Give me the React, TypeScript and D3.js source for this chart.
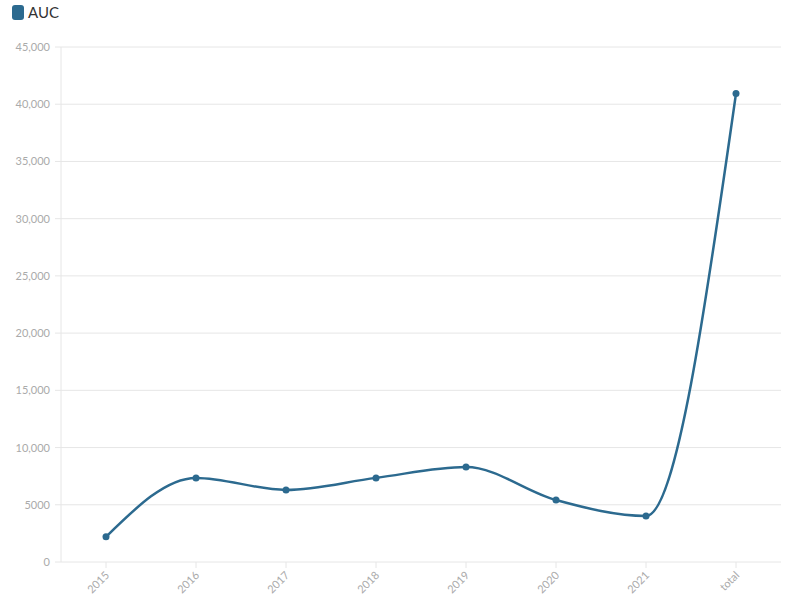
import React from "react";
import * as d3 from "d3";

const categories: string[] = ["2015", "2016", "2017", "2018", "2019", "2020", "2021", "total"];
const aucValues: number[] = [2200, 7350, 6300, 7350, 8300, 5420, 4020, 40940];
const yTicks: number[] = [0, 5000, 10000, 15000, 20000, 25000, 30000, 35000, 40000, 45000];
const seriesName = "AUC";

const W = 800;
const H = 603;
const margin = { left: 61, right: 19, top: 47, bottom: 41 };
const color = "#2c6a8f";
const font = "Lato, 'Open Sans', sans-serif";

export default function App() {
  const x = d3
    .scalePoint<string>()
    .domain(categories)
    .range([margin.left, W - margin.right])
    .padding(0.5);
  const y = d3
    .scaleLinear()
    .domain([0, 45000])
    .range([H - margin.bottom, margin.top]);
  const fmt = (d: number) => (d >= 10000 ? d3.format(",")(d) : String(d));
  const line = d3
    .line<number>()
    .x((_, i) => x(categories[i]) as number)
    .y((d) => y(d))
    .curve(d3.curveMonotoneX);
  const x0 = margin.left;
  const x1 = W - margin.right;
  const yb = y(0);
  return (
    <svg
      width={W}
      height={H}
      style={{ position: "absolute", left: 0, top: 0, background: "#fff" }}
      fontFamily={font}
    >
      {/* legend */}
      <rect x={12} y={5} width={12} height={15} rx={3} fill={color} />
      <text x={28} y={18} fontSize={15} fill="#333">
        {seriesName}
      </text>
      {/* grid */}
      {yTicks.map((t) => (
        <g key={t}>
          <line x1={x0 - 6} x2={x1} y1={y(t)} y2={y(t)} stroke="#e6e6e6" strokeWidth={1} />
          <text x={x0 - 11} y={y(t) + 4} textAnchor="end" fontSize={11} fill="#aaa">
            {fmt(t)}
          </text>
        </g>
      ))}
      <line x1={x0} x2={x0} y1={margin.top} y2={yb} stroke="#e6e6e6" strokeWidth={1} />
      {categories.map((c) => {
        const cx = x(c) as number;
        return (
          <g key={c}>
            <line x1={cx} x2={cx} y1={yb} y2={yb + 6} stroke="#e6e6e6" />
            <text
              transform={`translate(${cx + 4},${yb + 14}) rotate(-45)`}
              textAnchor="end"
              fontSize={11}
              fill="#aaa"
            >
              {c}
            </text>
          </g>
        );
      })}
      <path d={line(aucValues) || ""} fill="none" stroke={color} strokeWidth={2.5} />
      {aucValues.map((v, i) => (
        <circle key={i} cx={x(categories[i]) as number} cy={y(v)} r={3.5} fill={color} />
      ))}
    </svg>
  );
}
